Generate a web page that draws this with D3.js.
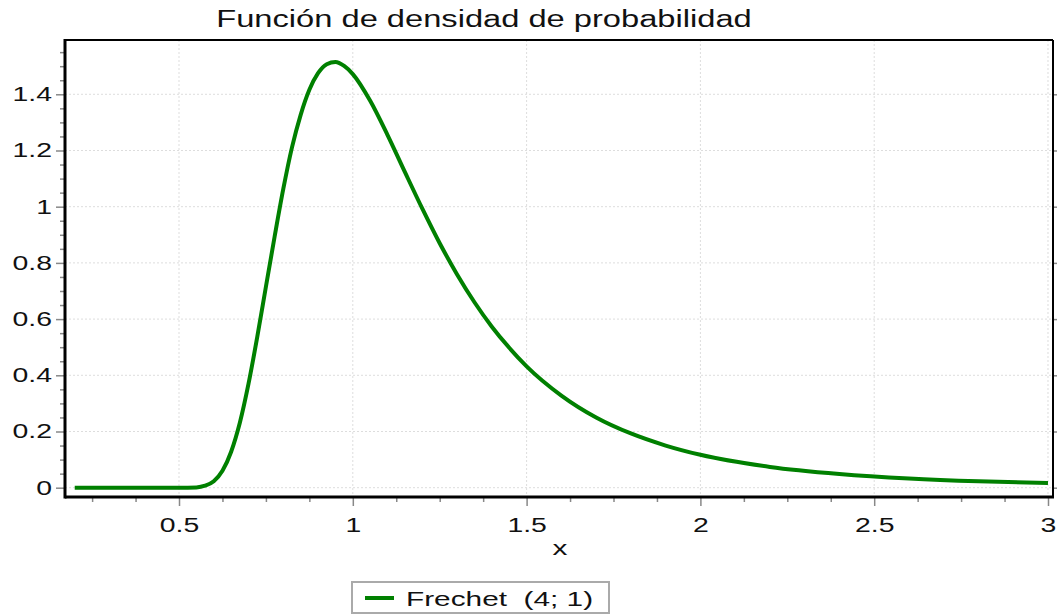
<!DOCTYPE html>
<html lang="es">
<head>
<meta charset="UTF-8">
<script src="https://d3js.org/d3.v7.min.js"></script>
<title>Función de densidad de probabilidad</title>
<style>
  body { margin: 0; background: #fff; }
  text { font-family: "Liberation Sans", Arial, sans-serif; fill: #111; }
</style>
</head>
<body>
<svg id="chart" width="1057" height="616"></svg>
<script>
// values
const xVals = [0.2, 0.25, 0.3, 0.35, 0.4, 0.45, 0.5, 0.55, 0.575, 0.6, 0.625, 0.65, 0.675, 0.7,
  0.725, 0.75, 0.775, 0.8, 0.825, 0.85, 0.875, 0.9, 0.925, 0.95, 0.975, 1.0, 1.05, 1.1, 1.15,
  1.2, 1.25, 1.3, 1.35, 1.4, 1.45, 1.5, 1.6, 1.7, 1.8, 1.9, 2.0, 2.2, 2.4, 2.6, 2.8, 3.0];
const density = [0, 0, 0, 0, 0, 0, 0, 0.001, 0.007, 0.023, 0.06, 0.128, 0.231, 0.37,
  0.536, 0.715, 0.893, 1.063, 1.211, 1.327, 1.416, 1.475, 1.507, 1.515, 1.501, 1.472, 1.377, 1.255, 1.123,
  0.993, 0.87, 0.759, 0.66, 0.573, 0.498, 0.432, 0.328, 0.25, 0.193, 0.15, 0.117, 0.074, 0.049, 0.033, 0.023, 0.017];
const xTicks = [0.5, 1, 1.5, 2, 2.5, 3];
const yTicks = [0, 0.2, 0.4, 0.6, 0.8, 1, 1.2, 1.4];
const seriesName = "Frechet  (4; 1)";
const title = "Función de densidad de probabilidad";

const sx = 1.42; // text in the reference is stretched horizontally
const pLeft = 65, pTop = 40, pRight = 1053, pBottom = 497;

const svg = d3.select("#chart");

const x = d3.scaleLinear().domain([0.172, 3.0144]).range([pLeft, pRight]);
const y = d3.scaleLinear().domain([-0.0331, 1.5932]).range([pBottom, pTop]);

// grid
svg.append("g").selectAll("line").data(xTicks).enter().append("line")
  .attr("x1", d => x(d)).attr("x2", d => x(d)).attr("y1", pTop).attr("y2", pBottom)
  .attr("stroke", "#ddd").attr("stroke-dasharray", "2,2");
svg.append("g").selectAll("line").data(yTicks).enter().append("line")
  .attr("x1", pLeft).attr("x2", pRight).attr("y1", d => y(d)).attr("y2", d => y(d))
  .attr("stroke", "#ddd").attr("stroke-dasharray", "2,2");

// minor ticks
const xMinor = d3.range(0.25, 3.01, 0.125).filter(v => !xTicks.some(t => Math.abs(t - v) < 1e-6));
const yMinor = d3.range(0.05, 1.59, 0.05).filter(v => !yTicks.some(t => Math.abs(t - v) < 1e-6));

svg.append("g").attr("transform", `translate(0,${pBottom})`)
  .call(d3.axisBottom(x).tickValues(xMinor).tickSize(5).tickFormat(""))
  .call(g => g.select(".domain").remove())
  .call(g => g.selectAll("line").attr("stroke", "#888").attr("stroke-width", 1.5));
svg.append("g").attr("transform", `translate(${pLeft},0)`)
  .call(d3.axisLeft(y).tickValues(yMinor).tickSize(5).tickFormat(""))
  .call(g => g.select(".domain").remove())
  .call(g => g.selectAll("line").attr("stroke", "#888").attr("stroke-width", 1.5));

// major ticks + labels
const fmt = d3.format("~g");
svg.append("g").attr("transform", `translate(0,${pBottom})`)
  .call(d3.axisBottom(x).tickValues(xTicks).tickSize(9).tickPadding(12).tickFormat(fmt))
  .call(g => g.select(".domain").remove())
  .call(g => g.selectAll("line").attr("stroke", "#888").attr("stroke-width", 1.5))
  .call(g => g.selectAll("text").attr("font-size", 20).attr("fill", "#111")
    .attr("font-family", "Liberation Sans, Arial, sans-serif")
    .attr("transform", `scale(${sx},1)`)
    .attr("x", function() { return 0; }));
// bottom labels: keep them centred on their tick after the stretch
svg.selectAll("g.tick text").each(function() {});

svg.append("g").attr("transform", `translate(${pLeft},0)`)
  .call(d3.axisLeft(y).tickValues(yTicks).tickSize(9).tickPadding(4).tickFormat(fmt))
  .call(g => g.select(".domain").remove())
  .call(g => g.selectAll("line").attr("stroke", "#888").attr("stroke-width", 1.5))
  .call(g => g.selectAll("text").attr("font-size", 20).attr("fill", "#111")
    .attr("font-family", "Liberation Sans, Arial, sans-serif")
    .attr("x", -13 / sx).attr("transform", `scale(${sx},1)`));

// small ticks on the right border
svg.append("g").attr("transform", `translate(${pRight},0)`)
  .call(d3.axisRight(y).tickValues(yTicks).tickSize(4).tickFormat(""))
  .call(g => g.select(".domain").remove())
  .call(g => g.selectAll("line").attr("stroke", "#888").attr("stroke-width", 1.5));

// frame
svg.append("line").attr("x1", pLeft).attr("x2", pRight).attr("y1", pTop).attr("y2", pTop)
  .attr("stroke", "#000").attr("stroke-width", 2);
svg.append("line").attr("x1", pRight).attr("x2", pRight).attr("y1", pTop).attr("y2", pBottom)
  .attr("stroke", "#000").attr("stroke-width", 2);
svg.append("line").attr("x1", pLeft).attr("x2", pRight + 1).attr("y1", pBottom).attr("y2", pBottom)
  .attr("stroke", "#000").attr("stroke-width", 3);
svg.append("line").attr("x1", pLeft).attr("x2", pLeft).attr("y1", pTop - 1).attr("y2", pBottom + 1.5)
  .attr("stroke", "#000").attr("stroke-width", 3);

// curve
const pts = xVals.map((v, i) => [v, density[i]]);
svg.append("path").datum(pts)
  .attr("fill", "none").attr("stroke", "#008000").attr("stroke-width", 4)
  .attr("d", d3.line().x(d => x(d[0])).y(d => y(d[1])).curve(d3.curveMonotoneX));

// title & axis label
svg.append("text").attr("transform", `translate(484,27) scale(${sx},1)`)
  .attr("text-anchor", "middle").attr("font-size", 23).text(title);
svg.append("text").attr("transform", `translate(560,555) scale(${sx},1)`)
  .attr("text-anchor", "middle").attr("font-size", 21).text("x");

// legend
const lg = svg.append("g");
lg.append("rect").attr("x", 352).attr("y", 582).attr("width", 257).attr("height", 31)
  .attr("fill", "#fff").attr("stroke", "#aaa").attr("stroke-width", 2);
lg.append("line").attr("x1", 365).attr("x2", 394).attr("y1", 598).attr("y2", 598)
  .attr("stroke", "#008000").attr("stroke-width", 4);
lg.append("text").attr("transform", `translate(406,606) scale(${sx},1)`)
  .attr("font-size", 21).attr("xml:space", "preserve").style("white-space", "pre").text(seriesName);
</script>
</body>
</html>
